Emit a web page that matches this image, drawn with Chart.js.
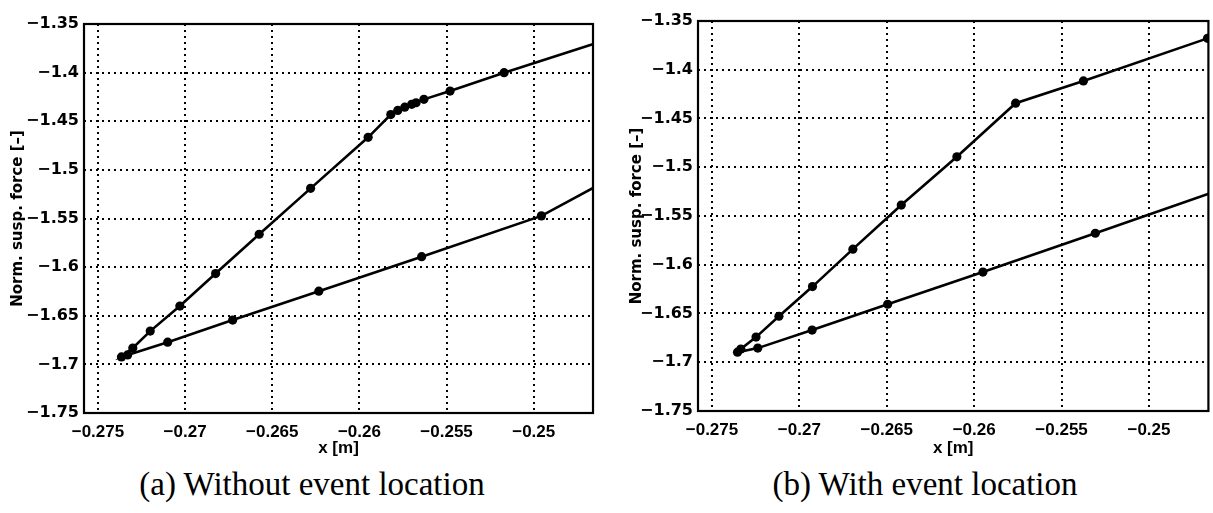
<!DOCTYPE html>
<html>
<head>
<meta charset="utf-8">
<script src="https://cdn.jsdelivr.net/npm/chart.js@4"></script>
<style>
html,body{margin:0;padding:0;background:#fff;width:1213px;height:513px;overflow:hidden;}
#ca{position:absolute;left:0;top:0;}
#cb{position:absolute;left:606px;top:0;}
.cap{position:absolute;top:464px;font-family:"Liberation Serif","Times New Roman",serif;font-size:33px;color:#000;white-space:nowrap;text-align:center;line-height:40px;}
#capa{left:12px;width:600px;}
#capb{left:625px;width:600px;}
</style>
</head>
<body>
<canvas id="ca" width="600" height="460"></canvas>
<canvas id="cb" width="607" height="460"></canvas>
<div class="cap" id="capa">(a) Without event location</div>
<div class="cap" id="capb">(b) With event location</div>
<script>
// ---- data ----
const xTickValues = [-0.275, -0.27, -0.265, -0.26, -0.255, -0.25];
const xTickLabels = ['\u22120.275', '\u22120.27', '\u22120.265', '\u22120.26', '\u22120.255', '\u22120.25'];
const yTickValues = [-1.75, -1.7, -1.65, -1.6, -1.55, -1.5, -1.45, -1.4, -1.35];
const yTickLabels = ['\u22121.75', '\u22121.7', '\u22121.65', '\u22121.6', '\u22121.55', '\u22121.5', '\u22121.45', '\u22121.4', '\u22121.35'];
const xLabel = 'x [m]';
const yLabel = 'Norm. susp. force [\u2013]';

// (a) Without event location
const leftX = [-0.2455, -0.2517, -0.2548, -0.2563, -0.25675, -0.2570, -0.2574, -0.2578, -0.2582, -0.2595, -0.2628, -0.26575, -0.26825, -0.2703, -0.2720, -0.2730, -0.27365, -0.2733, -0.2710, -0.26727, -0.26233, -0.25643, -0.24956, -0.2455];
const leftY = [-1.3643, -1.4001, -1.4190, -1.4275, -1.4310, -1.4326, -1.4355, -1.4389, -1.4431, -1.4665, -1.5190, -1.5662, -1.6066, -1.6400, -1.6658, -1.6832, -1.6923, -1.6903, -1.6772, -1.6544, -1.6247, -1.5893, -1.5473, -1.5080];

// (b) With event location
const rightX = [-0.24665, -0.25375, -0.25763, -0.26099, -0.26417, -0.26694, -0.26925, -0.27117, -0.27248, -0.27335, -0.27354, -0.27238, -0.26927, -0.26495, -0.2595, -0.25307, -0.2462];
const rightY = [-1.3678, -1.4115, -1.4343, -1.4893, -1.5388, -1.5840, -1.6224, -1.6528, -1.6742, -1.6865, -1.6897, -1.6855, -1.6670, -1.6405, -1.6075, -1.5677, -1.5247];

const xMin = -0.2758, xMax = -0.2466;
const yMin = -1.75, yMax = -1.35;

const boxPlugin = {
  id: 'box',
  afterDatasetsDraw(chart) {
    const {ctx, chartArea: a} = chart;
    ctx.save();
    ctx.strokeStyle = '#000';
    ctx.lineWidth = 2.2;
    ctx.strokeRect(a.left, a.top, a.right - a.left, a.bottom - a.top);
    ctx.restore();
  }
};

function makeChart(id, xs, ys, g) {
  const pts = xs.map((x, i) => ({x: x, y: ys[i]}));
  return new Chart(document.getElementById(id), {
    type: 'scatter',
    data: {
      datasets: [{
        data: pts,
        showLine: true,
        borderColor: '#000',
        borderWidth: 2.6,
        tension: 0,
        pointRadius: 4.6,
        pointBackgroundColor: '#000',
        pointBorderWidth: 0,
        pointHoverRadius: 4.6
      }]
    },
    options: {
      responsive: false,
      animation: false,
      devicePixelRatio: 1,
      layout: {padding: {left: 0, top: g.top, right: g.right, bottom: 0}},
      plugins: {legend: {display: false}, tooltip: {enabled: false}},
      scales: {
        x: {
          type: 'linear',
          min: xMin, max: xMax,
          afterBuildTicks: s => { s.ticks = xTickValues.map(v => ({value: v})); },
          afterFit: s => { s.height = g.xh; },
          ticks: {
            color: '#000',
            padding: 9,
            maxRotation: 0,
            autoSkip: false,
            font: {family: '"Liberation Sans", Arial, sans-serif', weight: 'bold', size: 17},
            callback: (v, i) => xTickLabels[i]
          },
          grid: {color: '#000', lineWidth: 2, drawTicks: false},
          border: {display: false, dash: [2, 4]},
          title: {
            display: true, text: xLabel, color: '#000',
            font: {family: '"Liberation Sans", Arial, sans-serif', weight: 'bold', size: 17},
            padding: {top: 0, bottom: 1}
          }
        },
        y: {
          type: 'linear',
          min: yMin, max: yMax,
          afterBuildTicks: s => { s.ticks = yTickValues.map(v => ({value: v})); },
          afterFit: s => { s.width = g.yw; },
          ticks: {
            color: '#000',
            padding: 5,
            autoSkip: false,
            font: {family: '"DejaVu Sans", sans-serif', weight: 'bold', size: 16},
            callback: (v, i) => yTickLabels[i]
          },
          grid: {color: '#000', lineWidth: 2, drawTicks: false},
          border: {display: false, dash: [2, 4]},
          title: {
            display: true, text: yLabel, color: '#000',
            font: {family: '"DejaVu Sans", sans-serif', weight: 'bold', size: 15},
            padding: {top: g.tp, bottom: 0}
          }
        }
      }
    },
    plugins: [boxPlugin]
  });
}

makeChart('ca', leftX, leftY, {top: 24, right: 7, xh: 47, yw: 84, tp: 9});
makeChart('cb', rightX, rightY, {top: 21, right: 3, xh: 49, yw: 92, tp: 22});
</script>
</body>
</html>
